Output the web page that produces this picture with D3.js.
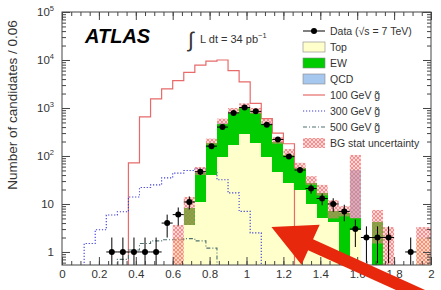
<!DOCTYPE html>
<html>
<head>
<meta charset="utf-8">
<script src="https://cdn.jsdelivr.net/npm/d3@7"></script>
<style>
body { margin: 0; background: #fff; }
text { font-family: "Liberation Sans", Arial, sans-serif; fill: #333; }
</style>
</head>
<body>
<svg id="chart" width="441" height="290"></svg>
<script>
// bin centres, width 0.06
var binWidth = 0.06;
var binCenters = [0.03, 0.09, 0.15, 0.21, 0.27, 0.33, 0.39, 0.45, 0.51, 0.57, 0.63, 0.69,
    0.75, 0.81, 0.87, 0.93, 0.99, 1.05, 1.11, 1.17, 1.23, 1.29, 1.35, 1.41, 1.47, 1.53,
    1.59, 1.65, 1.71, 1.77, 1.83, 1.89, 1.95, 2.01];

var dataCounts = [0, 0, 0, 0, 1, 1, 1, 1, 1, 4, 6, 11, 47, 160, 400, 790, 1020, 850, 450,
    220, 97, 51, 21, 13, 10, 7, 3, 2, 2, 2, 0, 1, 0, 0];

var topVals = [0, 0, 0, 0, 0, 0, 0, 0, 0, 0, 1.95, 3.65, 11, 40, 95, 170, 290, 186, 95,
    46, 28, 20, 10, 5, 4.2, 0, 2.9, 0, 0, 0, 0, 0, 2.0, 2.0];
var ewVals = [0, 0, 0, 0, 0, 0, 0, 0, 0, 0, 0, 4.5, 33, 146, 375, 600, 700, 585, 375,
    149, 77, 36, 17, 12, 2.8, 6.5, 2.2, 0, 4.2, 0, 0, 0, 0, 0];
var qcdVals = [0, 0, 0, 0, 0, 0, 0, 0, 0, 0, 0, 0, 0, 0, 20, 50, 60, 50, 20,
    0, 0, 0, 0, 0, 0, 0, 46, 0, 0, 0, 0, 0, 0, 0];

var bandLo = [0, 0, 0, 0, 0, 0, 0, 0, 0, 0, 0.3, 3.65, 40, 172, 455, 760, 980, 760, 455,
    180, 97, 52, 25, 15, 5, 5.5, 5, 0, 1.5, 0.3, 0, 0, 0.5, 0.5];
var bandHi = [0, 0, 0, 0, 0, 0, 0, 0, 0, 0, 3.65, 14, 59, 230, 600, 1000, 1250, 1000, 600,
    245, 140, 72, 38, 25, 12, 9, 105, 0, 7.5, 3.3, 0, 0, 3.3, 3.3];

var sig100 = [0, 0, 0, 0, 0, 0, 72, 650, 1550, 2500, 3700, 5500, 7800, 9500, 10000, 6000,
    3500, 1250, 600, 300, 180, 0, 0, 0, 0, 0, 0, 0, 0, 0, 0, 0, 0, 0];
var sig300 = [0, 0, 1.5, 2.9, 5.9, 6.9, 14, 22, 25, 35, 44, 50, 55, 45, 32, 17, 7, 2.5,
    0, 0, 0, 0, 0, 0, 0, 0, 0, 0, 0, 0, 0, 0, 0, 0];
var sig500 = [0, 0, 0, 0, 0, 0.7, 1.1, 1.5, 1.7, 1.8, 1.8, 1.9, 1.7, 1.2, 0.5, 0, 0, 0,
    0, 0, 0, 0, 0, 0, 0, 0, 0, 0, 0, 0, 0, 0, 0, 0];

var xTicks = [0, 0.2, 0.4, 0.6, 0.8, 1, 1.2, 1.4, 1.6, 1.8, 2];
var yTickValues = [1, 10, 100, 1000, 10000, 100000];
var yTickExps = ["", "", "2", "3", "4", "5"];

var legendLabels = ["Data (\u221As = 7 TeV)", "Top", "EW", "QCD", "100 GeV g\u0303",
    "300 GeV g\u0303", "500 GeV g\u0303", "BG stat uncertainty"];

var colTop = "#ffffcc", colEW = "#00cc00", colQCD = "#a6c8ee";
var col100 = "#e86a6a", col300 = "#3c3cdc", col500 = "#4f7070";

var svg = d3.select("#chart");
var x = d3.scaleLinear().domain([0, 2]).range([62, 431]);
var y = d3.scaleLog().domain([0.535, 1e5]).range([265, 12]);
var x0 = x.range()[0], x1 = x.range()[1], yB = y.range()[0], yT = y.range()[1];
var yFloor = yB + 10;

var defs = svg.append("defs");
defs.append("clipPath").attr("id", "clip").append("rect")
    .attr("x", x0).attr("y", yT).attr("width", x1 - x0).attr("height", yB - yT);
var pat = defs.append("pattern").attr("id", "hatch")
    .attr("patternUnits", "userSpaceOnUse").attr("width", 4).attr("height", 4);
pat.append("rect").attr("width", 4).attr("height", 4).attr("fill", "rgba(255,140,140,0.35)");
pat.append("path").attr("d", "M0,0L4,4M4,0L0,4").attr("stroke", "#ee7070").attr("stroke-width", 0.7);

function yPos(v) { return v > 0 ? y(v) : yFloor; }
function lo(c) { return x(c - binWidth / 2); }
function hi(c) { return x(c + binWidth / 2); }

var plot = svg.append("g").attr("clip-path", "url(#clip)");

// stacked backgrounds
var rows = binCenters.map(function (c, i) {
    return { c: c, Top: topVals[i], EW: ewVals[i], QCD: qcdVals[i] };
});
var stacked = d3.stack().keys(["Top", "EW", "QCD"])(rows);

function drawLayer(layer, color) {
    plot.append("g").selectAll("rect")
        .data(layer.filter(function (d) { return d[1] > d[0]; }))
        .enter().append("rect")
        .attr("shape-rendering", "crispEdges")
        .attr("x", function (d) { return lo(d.data.c); })
        .attr("width", function (d) { return hi(d.data.c) - lo(d.data.c); })
        .attr("y", function (d) { return yPos(d[1]); })
        .attr("height", function (d) { return yPos(d[0]) - yPos(d[1]); })
        .attr("fill", color);
}

drawLayer(stacked[0], colTop);

// signal histograms
function stepPoints(vals) {
    var first = vals.findIndex(function (v) { return v > 0; });
    var last = vals.length - 1 - vals.slice().reverse().findIndex(function (v) { return v > 0; });
    var pts = [[lo(binCenters[first]), yFloor]];
    for (var i = first; i <= last; i++) {
        pts.push([lo(binCenters[i]), yPos(vals[i])]);
        pts.push([hi(binCenters[i]), yPos(vals[i])]);
    }
    pts.push([hi(binCenters[last]), yFloor]);
    return pts;
}
var line = d3.line();
plot.append("path").attr("d", line(stepPoints(sig100))).attr("fill", "none")
    .attr("stroke", col100).attr("stroke-width", 1.2);
plot.append("path").attr("d", line(stepPoints(sig300))).attr("fill", "none")
    .attr("stroke", col300).attr("stroke-width", 1.1).attr("stroke-dasharray", "1.2,1.8");
plot.append("path").attr("d", line(stepPoints(sig500))).attr("fill", "none")
    .attr("stroke", col500).attr("stroke-width", 1.1).attr("stroke-dasharray", "4,2,1,2");

drawLayer(stacked[1], colEW);
drawLayer(stacked[2], colQCD);

// stat uncertainty band
plot.append("g").selectAll("rect")
    .data(binCenters.filter(function (c, i) { return bandHi[i] > 0; }))
    .enter().append("rect")
    .attr("x", function (c) { return lo(c); })
    .attr("width", function (c) { return hi(c) - lo(c); })
    .attr("y", function (c) { return y(bandHi[binCenters.indexOf(c)]); })
    .attr("height", function (c) { var i = binCenters.indexOf(c); return yPos(bandLo[i]) - y(bandHi[i]); })
    .attr("fill", "url(#hatch)");

// data points
var pts = binCenters.map(function (c, i) { return { c: c, n: dataCounts[i] }; })
    .filter(function (d) { return d.n > 0; });
var dg = plot.append("g");
dg.selectAll("line.ey").data(pts).enter().append("line")
    .attr("x1", function (d) { return x(d.c); }).attr("x2", function (d) { return x(d.c); })
    .attr("y1", function (d) { return yPos(d.n - Math.sqrt(d.n)); })
    .attr("y2", function (d) { return y(d.n + Math.sqrt(d.n)); })
    .attr("stroke", "#000").attr("stroke-width", 1);
dg.selectAll("line.ex").data(pts).enter().append("line")
    .attr("x1", function (d) { return lo(d.c); }).attr("x2", function (d) { return hi(d.c); })
    .attr("y1", function (d) { return y(d.n); }).attr("y2", function (d) { return y(d.n); })
    .attr("stroke", "#000").attr("stroke-width", 1);
dg.selectAll("circle").data(pts).enter().append("circle")
    .attr("cx", function (d) { return x(d.c); }).attr("cy", function (d) { return y(d.n); })
    .attr("r", 3).attr("fill", "#000");

// frame and axes
var axCol = "#444";
var minorX = d3.range(0, 2.0001, 0.05);
var minorY = y.ticks().filter(function (v) { return yTickValues.indexOf(v) < 0; });

function styleAxis(g) {
    g.select(".domain").remove();
    g.selectAll("line").attr("stroke", axCol);
    g.selectAll("text").attr("fill", "#333").style("font-size", "11.5px")
        .style("font-family", "'Liberation Sans', Arial, sans-serif");
}
svg.append("g").attr("transform", "translate(0," + yB + ")")
    .call(d3.axisBottom(x).tickValues(minorX).tickSize(-4).tickFormat("")).call(styleAxis);
svg.append("g").attr("transform", "translate(0," + yB + ")")
    .call(d3.axisBottom(x).tickValues(xTicks).tickSize(-8).tickPadding(5).tickFormat(d3.format("~g")))
    .call(styleAxis);
svg.append("g").attr("transform", "translate(0," + yT + ")")
    .call(d3.axisTop(x).tickValues(minorX).tickSize(-4).tickFormat("")).call(styleAxis);
svg.append("g").attr("transform", "translate(0," + yT + ")")
    .call(d3.axisTop(x).tickValues(xTicks).tickSize(-8).tickFormat("")).call(styleAxis);
svg.append("g").attr("transform", "translate(" + x0 + ",0)")
    .call(d3.axisLeft(y).tickValues(minorY).tickSize(-4).tickFormat("")).call(styleAxis);
svg.append("g").attr("transform", "translate(" + x0 + ",0)")
    .call(d3.axisLeft(y).tickValues(yTickValues).tickSize(-8).tickFormat("")).call(styleAxis);
svg.append("g").attr("transform", "translate(" + x1 + ",0)")
    .call(d3.axisRight(y).tickValues(minorY).tickSize(-4).tickFormat("")).call(styleAxis);
svg.append("g").attr("transform", "translate(" + x1 + ",0)")
    .call(d3.axisRight(y).tickValues(yTickValues).tickSize(-8).tickFormat("")).call(styleAxis);
svg.append("rect").attr("x", x0).attr("y", yT).attr("width", x1 - x0).attr("height", yB - yT)
    .attr("fill", "none").attr("stroke", axCol).attr("stroke-width", 1);

// y tick labels with exponents
yTickValues.forEach(function (v, i) {
    var t = svg.append("text").attr("x", 54).attr("y", y(v) + 4)
        .attr("text-anchor", "end").style("font-size", "11.5px");
    if (i === 0) { t.text("1"); return; }
    t.append("tspan").text("10");
    if (yTickExps[i]) t.append("tspan").attr("dy", -5).style("font-size", "7.5px").text(yTickExps[i]);
});
svg.append("text").attr("x", 62).attr("y", 278).attr("text-anchor", "middle")
    .style("font-size", "11.5px").text("");

svg.append("text").attr("transform", "translate(17,105) rotate(-90)")
    .attr("text-anchor", "middle").style("font-size", "13.5px")
    .text("Number of candidates / 0.06");

// labels
svg.append("text").attr("x", 85).attr("y", 43).style("font-size", "20px")
    .style("font-weight", "bold").style("font-style", "italic").style("fill", "#000").text("ATLAS");
svg.append("text").attr("x", 188).attr("y", 47).style("font-size", "21px").text("\u222B");
var lumi = svg.append("text").attr("x", 200).attr("y", 43).style("font-size", "11px");
lumi.append("tspan").text("L dt = 34 pb");
lumi.append("tspan").attr("dy", -5).style("font-size", "7.5px").text("\u22121");

// legend
var lg = svg.append("g");
var lx = 303, lw = 22, ly0 = 31, lstep = 16;
legendLabels.forEach(function (lab, k) {
    var yy = ly0 + k * lstep;
    lg.append("text").attr("x", 330).attr("y", yy + 3.8).style("font-size", "10.5px").text(lab);
});
lg.append("line").attr("x1", lx).attr("x2", lx + lw).attr("y1", ly0).attr("y2", ly0).attr("stroke", "#000");
lg.append("circle").attr("cx", lx + lw / 2).attr("cy", ly0).attr("r", 3).attr("fill", "#000");
[colTop, colEW, colQCD].forEach(function (c, k) {
    lg.append("rect").attr("x", lx).attr("y", ly0 + (k + 1) * lstep - 5).attr("width", lw).attr("height", 10)
        .attr("fill", c).attr("stroke", "#888").attr("stroke-width", 0.6);
});
[[col100, null, 1.2], [col300, "1.2,1.8", 1.1], [col500, "4,2,1,2", 1.1]].forEach(function (s, k) {
    var yy = ly0 + (k + 4) * lstep;
    lg.append("line").attr("x1", lx).attr("x2", lx + lw).attr("y1", yy).attr("y2", yy)
        .attr("stroke", s[0]).attr("stroke-width", s[2]).attr("stroke-dasharray", s[1]);
});
lg.append("rect").attr("x", lx).attr("y", ly0 + 7 * lstep - 5).attr("width", lw).attr("height", 10)
    .attr("fill", "url(#hatch)");

// red arrow annotation (data coordinates)
var arrowTip = [1.135, 3.3], arrowTail = [2.08, 0.075];
var tp = [x(arrowTip[0]), y(arrowTip[1])], tl = [x(arrowTail[0]), y(arrowTail[1])];
var dx = tp[0] - tl[0], dy = tp[1] - tl[1], len = Math.sqrt(dx * dx + dy * dy);
var ux = dx / len, uy = dy / len, nx = -uy, ny = ux;
var headLen = 43, headHalf = 22, shaftHalf = 6;
var bx = tp[0] - ux * headLen, by = tp[1] - uy * headLen;
var arrowPts = [
    tp,
    [bx + nx * headHalf, by + ny * headHalf],
    [bx + nx * shaftHalf, by + ny * shaftHalf],
    [tl[0] + nx * shaftHalf, tl[1] + ny * shaftHalf],
    [tl[0] - nx * shaftHalf, tl[1] - ny * shaftHalf],
    [bx - nx * shaftHalf, by - ny * shaftHalf],
    [bx - nx * headHalf, by - ny * headHalf]
];
svg.append("path").attr("d", d3.line()(arrowPts) + "Z").attr("fill", "#e8280c");
</script>
</body>
</html>
